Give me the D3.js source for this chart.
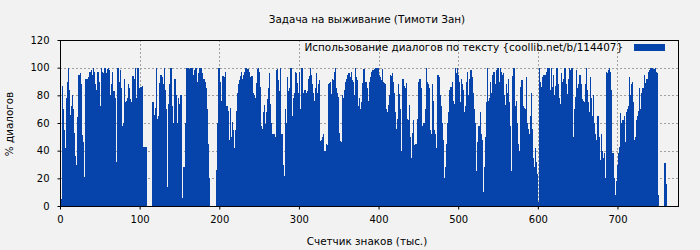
<!DOCTYPE html>
<html>
<head>
<meta charset="utf-8">
<script src="https://cdn.jsdelivr.net/npm/d3@7"></script>
<style>
  body { margin: 0; background: #f2f2f2; }
  svg { display: block; font-family: "DejaVu Sans", sans-serif; }
</style>
</head>
<body>
<svg id="chart" width="700" height="250"></svg>
<script>
const title = "Задача на выживание (Тимоти Зан)";
const xLabel = "Счетчик знаков (тыс.)";
const yLabel = "% диалогов";
const seriesName = "Использование диалогов по тексту {coollib.net/b/114407}";

const xTicks = [0, 100, 200, 300, 400, 500, 600, 700];
const yTicks = [0, 20, 40, 60, 80, 100, 120];

// % of dialogue per thousand characters (index = thousands)
const dialogShare = [
    5, 5, 87, 70, 55, 47, 42, 73, 78, 90,
    100, 84, 47, 66, 72, 80, 70, 53, 36, 30,
    24, 64, 92, 95, 95, 96, 88, 51, 46, 35,
    21, 47, 92, 91, 92, 93, 84, 97, 96, 98,
    95, 100, 97, 88, 86, 84, 92, 97, 90, 77,
    72, 100, 97, 96, 95, 100, 100, 93, 96, 99,
    100, 98, 73, 80, 88, 97, 71, 83, 78, 74,
    32, 49, 100, 90, 82, 98, 85, 57, 58, 60,
    92, 75, 75, 76, 78, 88, 85, 77, 76, 75,
    92, 94, 84, 92, 100, 78, 55, 100, 92, 85,
    70, 86, 86, 87, 43, 43, 43, 43, 0, 0,
    0, 0, 0, 0, 0, 40, 75, 66, 57, 71,
    100, 61, 63, 65, 89, 89, 95, 93, 92, 88,
    100, 84, 70, 54, 14, 72, 74, 88, 100, 100,
    72, 23, 60, 92, 92, 80, 47, 60, 78, 58,
    74, 80, 35, 6, 5, 28, 28, 60, 100, 87,
    100, 99, 99, 100, 100, 100, 95, 90, 98, 100,
    100, 90, 80, 96, 70, 100, 100, 100, 96, 88,
    92, 90, 88, 85, 70, 45, 20, 20, 0, 0,
    0, 0, 0, 0, 0, 0, 26, 60, 60, 100,
    90, 80, 76, 63, 94, 93, 92, 97, 71, 72,
    69, 66, 48, 71, 36, 50, 61, 55, 42, 38,
    55, 69, 82, 78, 88, 91, 94, 97, 82, 92,
    95, 97, 100, 100, 99, 99, 96, 97, 92, 93,
    94, 90, 82, 80, 78, 76, 89, 99, 100, 97,
    95, 86, 58, 44, 56, 68, 73, 52, 59, 68,
    77, 85, 96, 74, 60, 52, 52, 6, 52, 50,
    48, 98, 99, 91, 83, 76, 100, 6, 52, 30,
    20, 22, 70, 60, 54, 93, 83, 68, 85, 100,
    98, 65, 72, 78, 82, 97, 96, 89, 82, 78,
    97, 70, 95, 100, 46, 82, 80, 84, 80, 82,
    83, 92, 88, 94, 100, 95, 88, 82, 76, 70,
    85, 96, 77, 82, 88, 91, 47, 45, 48, 50,
    52, 40, 33, 40, 45, 44, 88, 88, 89, 90,
    81, 92, 91, 90, 97, 100, 85, 82, 79, 68,
    53, 47, 46, 45, 80, 78, 78, 84, 90, 92,
    91, 95, 96, 96, 93, 97, 91, 90, 88, 80,
    100, 93, 91, 90, 72, 78, 65, 70, 75, 89,
    92, 99, 90, 83, 90, 85, 62, 76, 90, 93,
    95, 97, 98, 97, 99, 100, 100, 100, 97, 100,
    95, 93, 91, 83, 99, 90, 89, 88, 85, 70,
    62, 68, 73, 80, 95, 92, 94, 96, 90, 82,
    68, 56, 45, 63, 88, 81, 70, 60, 40, 45,
    92, 87, 82, 85, 89, 63, 62, 60, 73, 50,
    35, 20, 53, 62, 43, 44, 45, 32, 63, 87,
    90, 92, 72, 85, 55, 58, 60, 52, 70, 100,
    90, 80, 88, 85, 55, 52, 50, 88, 76, 55,
    52, 50, 42, 90, 95, 93, 92, 80, 72, 60,
    48, 35, 20, 10, 28, 45, 60, 68, 82, 84,
    86, 83, 90, 76, 74, 72, 100, 96, 100, 95,
    90, 85, 75, 92, 88, 84, 65, 68, 55, 72,
    90, 97, 80, 85, 92, 98, 88, 93, 82, 70,
    60, 58, 25, 35, 46, 58, 30, 68, 52, 48,
    44, 10, 6, 28, 50, 75, 100, 74, 76, 78,
    90, 82, 92, 95, 97, 78, 88, 96, 98, 100,
    76, 90, 100, 97, 95, 82, 96, 80, 73, 66,
    88, 82, 92, 75, 58, 15, 25, 88, 94, 100,
    85, 72, 76, 60, 45, 22, 40, 80, 86, 91,
    85, 72, 71, 70, 66, 93, 60, 56, 52, 45,
    65, 82, 56, 30, 35, 28, 42, 32, 23, 5,
    3, 100, 90, 82, 86, 93, 94, 95, 95, 90,
    97, 100, 91, 100, 88, 84, 100, 86, 72, 95,
    80, 74, 87, 100, 95, 88, 78, 74, 70, 96,
    90, 83, 92, 100, 90, 88, 70, 81, 92, 100,
    95, 98, 100, 73, 50, 60, 70, 79, 98, 85,
    80, 88, 95, 82, 88, 77, 76, 75, 62, 88,
    100, 84, 68, 75, 68, 93, 78, 62, 65, 80,
    60, 52, 43, 48, 65, 65, 50, 33, 25, 52,
    40, 35, 30, 38, 20, 97, 96, 95, 98, 100,
    97, 84, 70, 38, 38, 20, 8, 4, 18, 22,
    30, 38, 43, 67, 58, 60, 62, 55, 65, 25,
    46, 68, 70, 72, 93, 80, 67, 88, 90, 75,
    48, 20, 50, 62, 60, 65, 69, 85, 70, 78,
    82, 85, 80, 95, 86, 89, 92, 90, 97, 96,
    98, 100, 99, 100, 99, 99, 98, 100, 97, 96,
    8, 0, 0, 0, 0, 0, 0, 0, 31, 31,
    16, 16
];

const width = 700, height = 250;
const margin = { top: 40, right: 22, bottom: 44, left: 60 };
const barColor = "#0644ab";

const svg = d3.select("#chart");

const x = d3.scaleLinear()
    .domain([0, 776])
    .range([margin.left, width - margin.right]);

const y = d3.scaleLinear()
    .domain([0, 120])
    .range([height - margin.bottom, margin.top]);

svg.append("rect")
    .attr("width", width).attr("height", height)
    .attr("fill", "#f2f2f2");

// grid
svg.append("g")
    .selectAll("line")
    .data(yTicks.filter(d => d > 0 && d < 120))
    .join("line")
    .attr("x1", x.range()[0]).attr("x2", x.range()[1])
    .attr("y1", d => Math.round(y(d)) + 0.5).attr("y2", d => Math.round(y(d)) + 0.5)
    .attr("stroke", "#a0a0a0").attr("stroke-dasharray", "2,2");

svg.append("g")
    .selectAll("line")
    .data(xTicks.filter(d => d > 0))
    .join("line")
    .attr("x1", d => Math.round(x(d)) + 0.5).attr("x2", d => Math.round(x(d)) + 0.5)
    .attr("y1", y(0)).attr("y2", y(120))
    .attr("stroke", "#a0a0a0").attr("stroke-dasharray", "2,2");

// bars (a bit wider than one step so neighbours overlap and leave no seams)
svg.append("g")
    .attr("fill", barColor)
    .attr("shape-rendering", "crispEdges")
    .selectAll("rect")
    .data(dialogShare)
    .join("rect")
    .attr("x", (d, i) => x(i))
    .attr("width", (d, i) => x(i + 1) - x(i) + 0.6)
    .attr("y", d => y(d))
    .attr("height", d => y(0) - y(d));

// border
svg.append("rect")
    .attr("x", x.range()[0] + 0.5).attr("y", y(120) + 0.5)
    .attr("width", x.range()[1] - x.range()[0])
    .attr("height", y(0) - y(120))
    .attr("fill", "none").attr("stroke", "#000");

// axes
const xAxis = d3.axisBottom(x).tickValues(xTicks).tickSize(3).tickPadding(6);
const yAxis = d3.axisLeft(y).tickValues(yTicks).tickSize(3).tickPadding(8);

svg.append("g")
    .attr("transform", `translate(0,${y(0) + 0.5})`)
    .call(xAxis)
    .call(g => g.select(".domain").remove())
    .call(g => g.selectAll("text").attr("font-size", 10).attr("font-family", "DejaVu Sans").attr("fill", "#000"));

svg.append("g")
    .attr("transform", `translate(${x(0) + 0.5},0)`)
    .call(yAxis)
    .call(g => g.select(".domain").remove())
    .call(g => g.selectAll("text").attr("font-size", 10).attr("font-family", "DejaVu Sans").attr("fill", "#000"));

// title and labels
svg.append("text")
    .attr("x", 367).attr("y", 23)
    .attr("text-anchor", "middle")
    .attr("font-size", 10.4)
    .text(title);

svg.append("text")
    .attr("x", 367).attr("y", 245)
    .attr("text-anchor", "middle")
    .attr("font-size", 10.4)
    .text(xLabel);

svg.append("text")
    .attr("transform", `translate(13,124) rotate(-90)`)
    .attr("text-anchor", "middle")
    .attr("font-size", 10.4)
    .text(yLabel);

// legend
svg.append("text")
    .attr("x", 623).attr("y", 51)
    .attr("text-anchor", "end")
    .attr("font-size", 10.4)
    .text(seriesName);

svg.append("rect")
    .attr("x", 634).attr("y", 44)
    .attr("width", 31).attr("height", 7)
    .attr("fill", barColor);
</script>
</body>
</html>
